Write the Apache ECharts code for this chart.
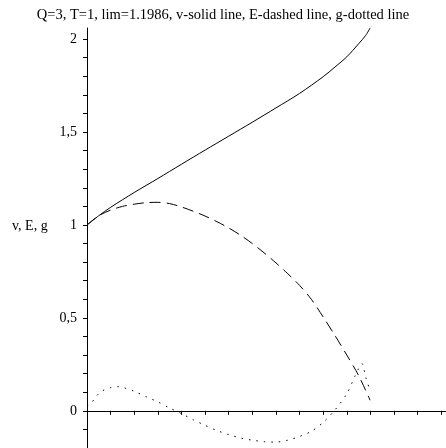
<!DOCTYPE html>
<html>
<head>
<meta charset="utf-8">
<script src="https://cdn.jsdelivr.net/npm/echarts@6/dist/echarts.min.js"></script>
<style>
  html, body { margin: 0; padding: 0; background: #fff; }
  #chart { width: 446px; height: 448px; }
</style>
</head>
<body>
<div id="chart"></div>
<script>
// Solution curves v(t), E(t), g(t) for Q=3, T=1 up to t = lim = 1.1986
const tV = [0, 0.05, 0.1, 0.2, 0.3, 0.4, 0.5, 0.6, 0.7, 0.8, 0.9, 1.0, 1.05, 1.1, 1.15, 1.18, 1.1986];
const vValues = [1.0, 1.05, 1.095, 1.175, 1.25, 1.327, 1.403, 1.478, 1.553, 1.63, 1.708, 1.798, 1.85, 1.905, 1.975, 2.02, 2.06];

const tE = [0, 0.05, 0.1, 0.15, 0.2, 0.25, 0.3, 0.35, 0.4, 0.45, 0.5, 0.55, 0.6, 0.65, 0.7, 0.75, 0.8, 0.85, 0.9, 0.95, 1.0, 1.05, 1.1, 1.15, 1.1986];
const eValues = [1.0, 1.05, 1.08, 1.1, 1.112, 1.12, 1.122, 1.115, 1.097, 1.074, 1.048, 1.018, 0.984, 0.945, 0.9, 0.85, 0.796, 0.738, 0.675, 0.6, 0.505, 0.405, 0.3, 0.19, 0.057];

const tG = [0, 0.02, 0.04, 0.066, 0.1, 0.13, 0.16, 0.2, 0.25, 0.3, 0.35, 0.4, 0.45, 0.5, 0.55, 0.6, 0.65, 0.7, 0.75, 0.8, 0.85, 0.9, 0.95, 1.0, 1.05, 1.1, 1.136, 1.164, 1.18, 1.1986];
const gValues = [0.025, 0.045, 0.08, 0.108, 0.125, 0.13, 0.123, 0.105, 0.076, 0.048, 0.015, -0.015, -0.048, -0.078, -0.106, -0.128, -0.146, -0.158, -0.166, -0.168, -0.158, -0.138, -0.11, -0.062, 0.005, 0.092, 0.19, 0.254, 0.18, 0.11];

// Axis ticks and labels
const xTicks = [0.1, 0.2, 0.3, 0.4, 0.5, 0.6, 0.7, 0.8, 0.9, 1.0, 1.1, 1.2, 1.3, 1.4, 1.5];
const xLabels = [0.5, 1, 1.5];
const yTicks = [-0.2, -0.1, 0, 0.1, 0.2, 0.3, 0.4, 0.5, 0.6, 0.7, 0.8, 0.9, 1.0, 1.1, 1.2, 1.3, 1.4, 1.5, 1.6, 1.7, 1.8, 1.9, 2.0];
const yLabels = [0, 0.5, 1, 1.5, 2];

const titleText = 'Q=3, T=1, lim=1.1986, v-solid line, E-dashed line, g-dotted line';
const yAxisTitle = 'v, E, g';
const FONT = 'Liberation Serif';

const pairs = (xs, ys) => xs.map((x, i) => [x, ys[i]]);
const decimalComma = v => String(v).replace('.', ',');

const chart = echarts.init(document.getElementById('chart'), null, { renderer: 'canvas' });

const axisCommon = {
  type: 'value',
  axisLine: { show: true, lineStyle: { color: '#000', width: 1 } },
  splitLine: { show: false },
  axisLabel: {
    color: '#000',
    fontFamily: FONT,
    fontSize: 14,
    formatter: decimalComma
  },
  axisTick: { show: true, length: 4, lineStyle: { color: '#000', width: 1 } }
};

chart.setOption({
  animation: false,
  backgroundColor: '#fff',
  title: [
    {
      text: titleText,
      left: 'center',
      top: 3,
      textStyle: { fontFamily: FONT, fontSize: 14.5, fontWeight: 'normal', color: '#000' }
    },
    {
      text: yAxisTitle,
      left: 7,
      top: 214,
      textStyle: { fontFamily: FONT, fontSize: 14, fontWeight: 'normal', color: '#000' }
    }
  ],
  grid: { left: 87, right: 0, top: 28, bottom: 0, containLabel: false, outerBoundsMode: 'none' },
  xAxis: Object.assign({}, axisCommon, {
    min: 0,
    max: 1.52,
    name: 't',
    nameLocation: 'middle',
    nameGap: 26,
    nameTextStyle: { fontFamily: FONT, fontSize: 14, color: '#000' },
    axisLine: { show: true, onZero: true, lineStyle: { color: '#000', width: 1 } },
    axisTick: Object.assign({}, axisCommon.axisTick, { customValues: xTicks }),
    axisLabel: Object.assign({}, axisCommon.axisLabel, { customValues: xLabels, margin: 9 })
  }),
  yAxis: Object.assign({}, axisCommon, {
    min: -0.2,
    max: 2.06,
    axisTick: Object.assign({}, axisCommon.axisTick, { customValues: yTicks }),
    axisLabel: Object.assign({}, axisCommon.axisLabel, { customValues: yLabels, margin: 10 })
  }),
  series: [
    {
      name: 'v',
      type: 'line',
      data: pairs(tV, vValues),
      smooth: 0.3,
      showSymbol: false,
      lineStyle: { color: '#000', width: 1, type: 'solid' }
    },
    {
      name: 'E',
      type: 'line',
      data: pairs(tE, eValues),
      smooth: 0.3,
      showSymbol: false,
      lineStyle: { color: '#000', width: 1, type: [11, 6] }
    },
    {
      name: 'g',
      type: 'line',
      data: pairs(tG, gValues),
      smooth: 0.3,
      showSymbol: false,
      lineStyle: { color: '#000', width: 1, type: [1.5, 6] }
    }
  ]
});
</script>
</body>
</html>
